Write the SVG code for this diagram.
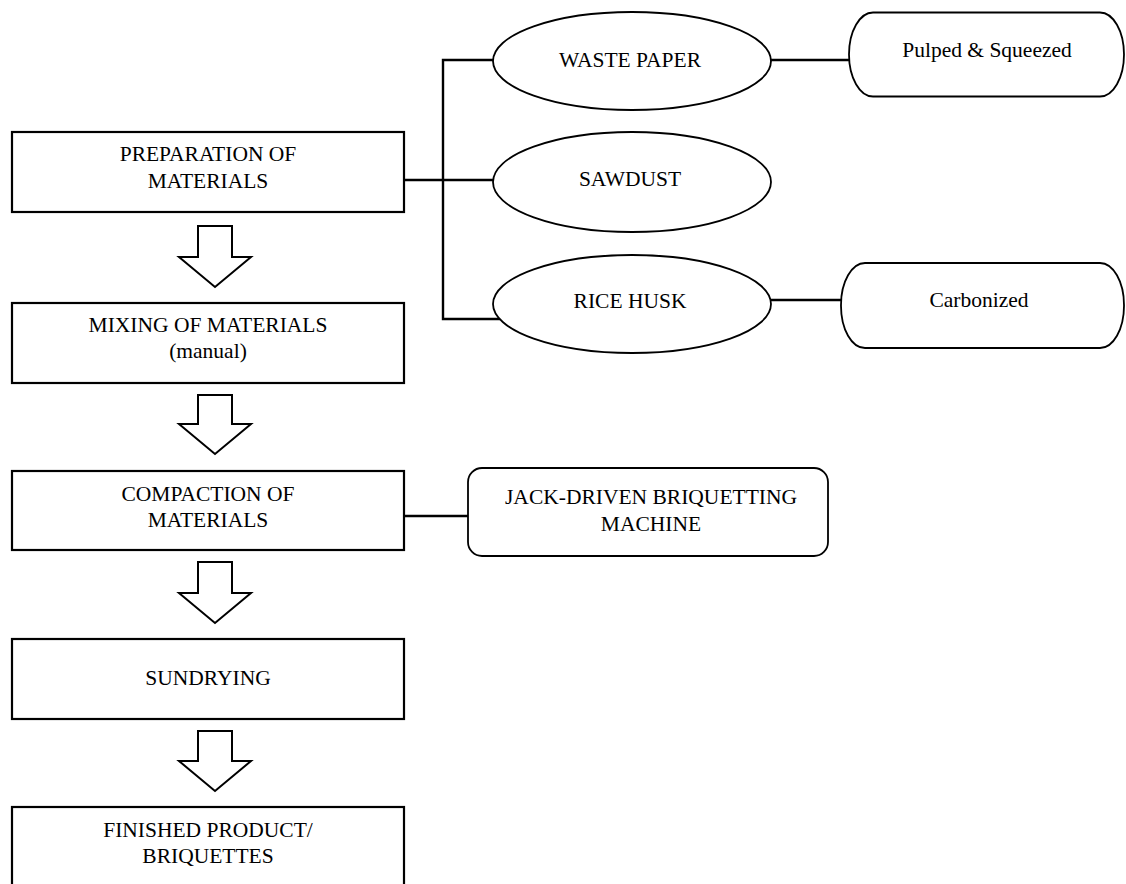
<svg xmlns="http://www.w3.org/2000/svg" width="1126" height="884" viewBox="0 0 1126 884">
<style>
.box{fill:#fff;stroke:#000;stroke-width:2.2}
.ell{fill:#fff;stroke:#000;stroke-width:1.8}
.arr{fill:#fff;stroke:#000;stroke-width:2;stroke-linejoin:miter}
.ln{fill:none;stroke:#000;stroke-width:2.4}
text{font-family:"Liberation Serif","Times New Roman",serif;font-size:21.5px;fill:#000;text-anchor:middle}
</style>
<rect width="1126" height="884" fill="#fff"/>
<g id="connectors">
<polyline class="ln" points="493,60 443,60 443,319 500,319"/>
<line class="ln" x1="404" y1="180" x2="494" y2="180"/>
<line class="ln" x1="771" y1="60" x2="849" y2="60"/>
<line class="ln" x1="771" y1="300" x2="841" y2="300"/>
<line class="ln" x1="404" y1="516" x2="468" y2="516"/>
<path class="arr" d="M198,226 H232 V257 H251 L215,287 L179,257 H198 Z"/>
<path class="arr" d="M198,395 H232 V424 H251 L215,454 L179,424 H198 Z"/>
<path class="arr" d="M198,562 H232 V593 H251 L215,623 L179,593 H198 Z"/>
<path class="arr" d="M198,731 H232 V761 H251 L215,791 L179,761 H198 Z"/>
</g>
<g id="prep">
<rect class="box" x="12" y="132" width="392" height="80"/>
<text x="208" y="161">PREPARATION OF</text>
<text x="208" y="188">MATERIALS</text>
</g>
<g id="mixing">
<rect class="box" x="12" y="303" width="392" height="80"/>
<text x="208" y="332">MIXING OF MATERIALS</text>
<text x="208" y="358">(manual)</text>
</g>
<g id="compaction">
<rect class="box" x="12" y="471" width="392" height="79"/>
<text x="208" y="501">COMPACTION OF</text>
<text x="208" y="527">MATERIALS</text>
</g>
<g id="sundrying">
<rect class="box" x="12" y="639" width="392" height="80"/>
<text x="208" y="685">SUNDRYING</text>
</g>
<g id="finished">
<rect class="box" x="12" y="807" width="392" height="90"/>
<text x="208" y="837">FINISHED PRODUCT/</text>
<text x="208" y="863">BRIQUETTES</text>
</g>
<g id="waste-paper">
<ellipse class="ell" cx="632" cy="61" rx="139" ry="49"/>
<text x="630" y="67">WASTE PAPER</text>
</g>
<g id="sawdust">
<ellipse class="ell" cx="632" cy="182" rx="139" ry="50"/>
<text x="630" y="186">SAWDUST</text>
</g>
<g id="rice-husk">
<ellipse class="ell" cx="632" cy="304" rx="139" ry="49"/>
<text x="630" y="308">RICE HUSK</text>
</g>
<g id="pulped">
<rect class="ell" x="849" y="12.5" width="275" height="84" rx="24" ry="42"/>
<text x="987" y="57">Pulped &amp; Squeezed</text>
</g>
<g id="carbonized">
<rect class="ell" x="841" y="263" width="283" height="85" rx="24" ry="42"/>
<text x="979" y="307">Carbonized</text>
</g>
<g id="jack">
<rect class="ell" x="468" y="468" width="360" height="88" rx="14" ry="14"/>
<text x="651" y="504">JACK-DRIVEN BRIQUETTING</text>
<text x="651" y="531">MACHINE</text>
</g>
</svg>
